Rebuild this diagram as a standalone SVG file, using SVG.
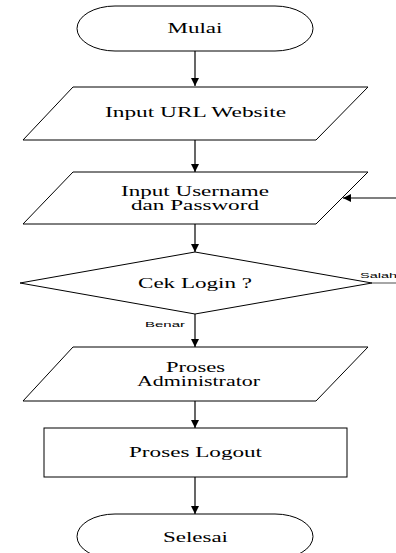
<svg xmlns="http://www.w3.org/2000/svg" width="396" height="553" viewBox="0 0 396 553">
<style>
.s{fill:#fff;stroke:#000;stroke-width:1}
.t{font-family:"Liberation Serif","Times New Roman",serif;font-size:14px;fill:#000;text-anchor:middle}
.l{font-family:"Liberation Sans",Arial,sans-serif;font-size:8px;fill:#000}
.c{stroke:#000;stroke-width:1.2;fill:none}
</style>
<defs>
<marker id="ah" markerUnits="userSpaceOnUse" markerWidth="9" markerHeight="8" refX="8" refY="4" orient="auto">
<path d="M0,0 L8,4 L0,8 Z" fill="#000"/>
</marker>
</defs>
<rect width="396" height="553" fill="#fff"/>
<g id="connectors">
<line class="c" x1="195" y1="51" x2="195" y2="86" marker-end="url(#ah)"/>
<line class="c" x1="195" y1="140" x2="195" y2="172" marker-end="url(#ah)"/>
<line class="c" x1="195" y1="224" x2="195" y2="252" marker-end="url(#ah)"/>
<line class="c" x1="195" y1="314" x2="195" y2="347" marker-end="url(#ah)"/>
<line class="c" x1="195" y1="401" x2="195" y2="428" marker-end="url(#ah)"/>
<line class="c" x1="195" y1="477" x2="195" y2="514" marker-end="url(#ah)"/>
<line class="c" x1="396" y1="198" x2="343" y2="198" marker-end="url(#ah)"/>
<line x1="372" y1="283" x2="396" y2="283" stroke="#888" stroke-width="1.5"/>
<text class="l" x="360" y="277.5" textLength="37" lengthAdjust="spacingAndGlyphs">Salah</text>
<text class="l" x="145" y="327" textLength="40" lengthAdjust="spacingAndGlyphs">Benar</text>
</g>
<g id="mulai">
<path class="s" d="M115,6 H275 A38,22.5 0 0 1 275,51 H115 A38,22.5 0 0 1 115,6 Z"/>
<text class="t" x="195" y="33" textLength="55" lengthAdjust="spacingAndGlyphs">Mulai</text>
</g>
<g id="input-url">
<polygon class="s" points="73,87 368,87 316,140 23,140"/>
<text class="t" x="195.5" y="117" textLength="181" lengthAdjust="spacingAndGlyphs">Input URL Website</text>
</g>
<g id="input-login">
<polygon class="s" points="73,172 368,172 316,224 23,224"/>
<text class="t" x="195" y="196" textLength="148" lengthAdjust="spacingAndGlyphs">Input Username</text>
<text class="t" x="195" y="209.5" textLength="128" lengthAdjust="spacingAndGlyphs">dan Password</text>
</g>
<g id="cek-login">
<polygon class="s" points="195,252 372,283 195,314 20,283"/>
<text class="t" x="195" y="288" textLength="114" lengthAdjust="spacingAndGlyphs">Cek Login ?</text>
</g>
<g id="proses-admin">
<polygon class="s" points="73,347 368,347 316,401 23,401"/>
<text class="t" x="195.5" y="371.5" textLength="59" lengthAdjust="spacingAndGlyphs">Proses</text>
<text class="t" x="198.5" y="386" textLength="123" lengthAdjust="spacingAndGlyphs">Administrator</text>
</g>
<g id="proses-logout">
<rect class="s" x="44" y="428" width="303" height="49"/>
<text class="t" x="195.5" y="456.5" textLength="133" lengthAdjust="spacingAndGlyphs">Proses Logout</text>
</g>
<g id="selesai">
<path class="s" d="M115,514 H275 A38,22.5 0 0 1 275,559 H115 A38,22.5 0 0 1 115,514 Z"/>
<text class="t" x="195.5" y="541.5" textLength="65" lengthAdjust="spacingAndGlyphs">Selesai</text>
</g>
</svg>
